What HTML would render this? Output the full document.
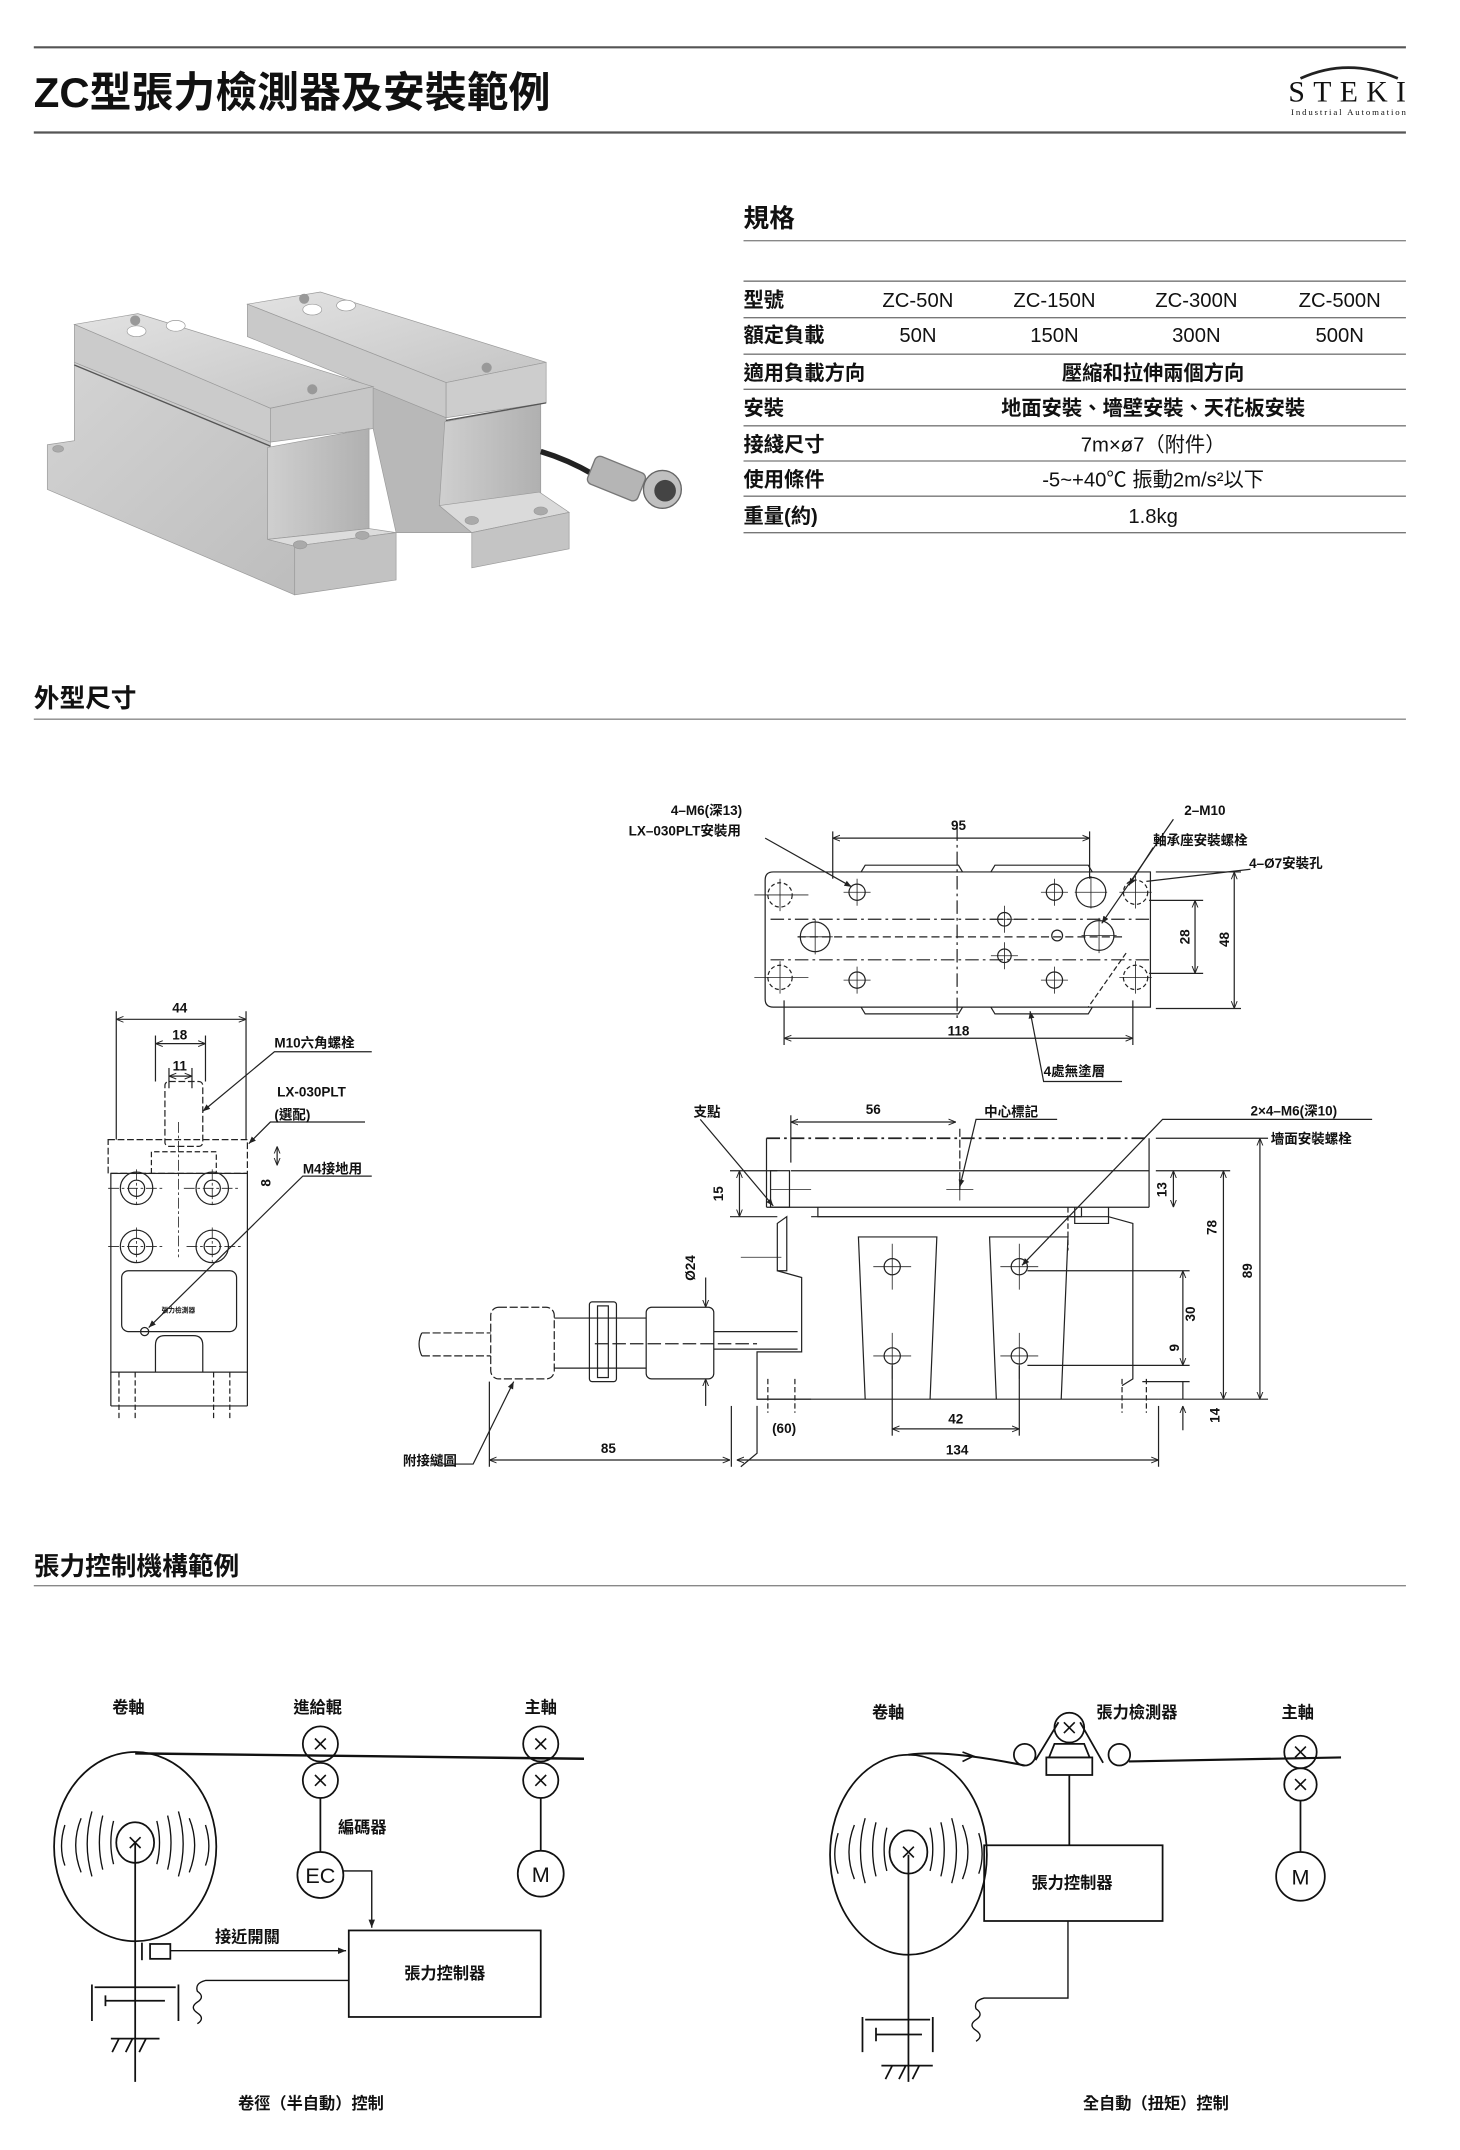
<!DOCTYPE html>
<html><head><meta charset="utf-8"><style>
html,body{margin:0;padding:0;background:#fff;}
svg{display:block;}
text{font-family:"Liberation Sans","Noto Sans CJK TC",sans-serif;fill:#111;}
.b{font-weight:bold;}
</style></head><body>
<svg width="1460" height="2150" viewBox="0 0 1080 1590.4" xmlns="http://www.w3.org/2000/svg">
<defs>
<marker id="ar" viewBox="0 0 10 10" refX="10" refY="5" markerWidth="6" markerHeight="6" orient="auto-start-reverse"><path d="M0,1 L10,5 L0,9" fill="none" stroke="#222" stroke-width="1.3"/></marker>
<marker id="af" viewBox="0 0 10 10" refX="10" refY="5" markerWidth="6" markerHeight="6" orient="auto"><path d="M0,1 L10,5 L0,9 z" fill="#222"/></marker>
<linearGradient id="g1" x1="0" y1="0" x2="1" y2="1"><stop offset="0" stop-color="#e2e2e2"/><stop offset="1" stop-color="#c4c4c4"/></linearGradient>
<linearGradient id="g2" x1="0" y1="0" x2="1" y2="0"><stop offset="0" stop-color="#cfcfcf"/><stop offset="1" stop-color="#b0b0b0"/></linearGradient>
<linearGradient id="g3" x1="0" y1="0" x2="1" y2="1"><stop offset="0" stop-color="#d4d4d4"/><stop offset="1" stop-color="#bdbdbd"/></linearGradient>
</defs>

<!-- header -->
<line x1="25" y1="35" x2="1040" y2="35" stroke="#555" stroke-width="1.6"/>
<text x="25" y="79" font-size="31" class="b">ZC型張力檢測器及安裝範例</text>
<line x1="25" y1="98" x2="1040" y2="98" stroke="#555" stroke-width="1.6"/>
<path d="M962,58 Q997,42 1034,58" fill="none" stroke="#222" stroke-width="2"/>
<text x="953" y="75" font-size="22" style="font-family:'Liberation Serif',serif" textLength="87">STEKI</text>
<text x="955" y="85" font-size="6.5" style="font-family:'Liberation Serif',serif" textLength="85">Industrial Automation</text>

<!-- spec -->
<text x="550" y="168" font-size="19" class="b">規格</text>
<line x1="550" y1="178" x2="1040" y2="178" stroke="#888" stroke-width="1"/>
<line x1="550" y1="208" x2="1040" y2="208" stroke="#888" stroke-width="1.2"/>
<g stroke="#777" stroke-width="1">
<line x1="550" y1="235" x2="1040" y2="235"/><line x1="550" y1="262" x2="1040" y2="262"/>
<line x1="550" y1="288" x2="1040" y2="288"/><line x1="550" y1="315" x2="1040" y2="315"/>
<line x1="550" y1="341" x2="1040" y2="341"/><line x1="550" y1="367" x2="1040" y2="367"/>
<line x1="550" y1="394" x2="1040" y2="394"/></g>
<g font-size="15">
<text x="550" y="227" class="b">型號</text>
<text x="679" y="227" text-anchor="middle">ZC-50N</text><text x="780" y="227" text-anchor="middle">ZC-150N</text>
<text x="885" y="227" text-anchor="middle">ZC-300N</text><text x="991" y="227" text-anchor="middle">ZC-500N</text>
<text x="550" y="253" class="b">額定負載</text>
<text x="679" y="253" text-anchor="middle">50N</text><text x="780" y="253" text-anchor="middle">150N</text>
<text x="885" y="253" text-anchor="middle">300N</text><text x="991" y="253" text-anchor="middle">500N</text>
<text x="550" y="281" class="b">適用負載方向</text><text x="853" y="281" text-anchor="middle" class="b">壓縮和拉伸兩個方向</text>
<text x="550" y="307" class="b">安裝</text><text x="853" y="307" text-anchor="middle" class="b">地面安裝、墻壁安裝、天花板安裝</text>
<text x="550" y="334" class="b">接綫尺寸</text><text x="853" y="334" text-anchor="middle">7m×ø7（附件）</text>
<text x="550" y="360" class="b">使用條件</text><text x="853" y="360" text-anchor="middle">-5~+40℃  振動2m/s²以下</text>
<text x="550" y="387" class="b">重量(約)</text><text x="853" y="387" text-anchor="middle">1.8kg</text>
</g>

<!-- photo -->
<g stroke="#9a9a9a" stroke-width="0.5">
<!-- right unit -->
<polygon points="276,286 330,283 330,312 325,374 349,394 293,394 276,317" fill="#b8b8b8"/>
<polygon points="183,225 237,216 404,268 330,283" fill="url(#g1)"/>
<polygon points="183,225 330,283 330,309 183,249" fill="#c9c9c9"/>
<polygon points="330,283 404,268 404,298 330,309" fill="#cdcdcd"/>
<polygon points="329,312 400,299 400,371 325,374" fill="url(#g2)"/>
<polygon points="325,374 399,364 421,379 349,394" fill="#dadada"/>
<polygon points="349,394 421,379 421,406 349,420" fill="#c4c4c4"/>
<circle cx="225" cy="221" r="3.5" fill="#999"/><circle cx="360" cy="272" r="3.5" fill="#999"/>
<ellipse cx="231" cy="229" rx="7" ry="4" fill="#fff"/><ellipse cx="256" cy="226" rx="7" ry="4" fill="#fff"/>
<ellipse cx="349" cy="385" rx="5" ry="3" fill="#aaa"/><ellipse cx="400" cy="378" rx="5" ry="3" fill="#aaa"/>
<!-- left unit -->
<polygon points="35,329 55,326 55,268 200,327 200,331 198,399 218,404 218,440 35,362" fill="url(#g3)"/>
<polygon points="55,240 102,232 276,286 200,302" fill="url(#g1)"/>
<polygon points="55,240 200,302 200,327 55,268" fill="#cbcbcb"/>
<polygon points="200,302 276,286 276,317 200,327" fill="#c6c6c6"/>
<polygon points="198,331 273,317 273,391 198,399" fill="url(#g2)"/>
<polygon points="198,399 273,391 293,394 218,404" fill="#dcdcdc"/>
<polygon points="218,404 293,394 293,429 218,440" fill="#c2c2c2"/>
<line x1="55" y1="270" x2="200" y2="330" stroke="#555" stroke-width="1"/>
<circle cx="100" cy="237" r="3.5" fill="#999"/><circle cx="231" cy="288" r="3.5" fill="#999"/>
<ellipse cx="101" cy="245" rx="7" ry="4" fill="#fff"/><ellipse cx="130" cy="241" rx="7" ry="4" fill="#fff"/>
<ellipse cx="222" cy="403" rx="5" ry="3" fill="#aaa"/><ellipse cx="268" cy="396" rx="5" ry="3" fill="#aaa"/>
<ellipse cx="43" cy="332" rx="4" ry="2.5" fill="#aaa"/>
</g>
<line x1="330" y1="311" x2="404" y2="298" stroke="#555" stroke-width="1"/>
<path d="M400,334 Q420,340 439,351" fill="none" stroke="#222" stroke-width="4"/>
<rect x="436" y="343" width="40" height="22" rx="4" fill="#b5b5b5" stroke="#777" transform="rotate(22 456 354)"/>
<circle cx="490" cy="362" r="14" fill="#c0c0c0" stroke="#666"/>
<circle cx="492" cy="363" r="8" fill="#444"/>

<!-- 外型尺寸 -->
<text x="25" y="523" font-size="19" class="b">外型尺寸</text>
<line x1="25" y1="532" x2="1040" y2="532" stroke="#888" stroke-width="1"/>

<g fill="none" stroke="#222" stroke-width="0.9" font-size="10">
<!-- top view -->
<path d="M572,645 L851,645 L851,745 L572,745 Q566,745 566,739 L566,651 Q566,645 572,645 Z"/>
<path d="M637,645 L640,640 L709,640 L712,645 M733,645 L736,640 L805,640 L808,645"/>
<path d="M637,745 L640,750 L709,750 L712,745 M733,745 L736,750 L805,750 L808,745"/>
<line x1="570" y1="680" x2="851" y2="680" stroke-dasharray="10,3,2,3"/>
<line x1="570" y1="710" x2="851" y2="710" stroke-dasharray="10,3,2,3"/>
<line x1="590" y1="693" x2="830" y2="693" stroke-dasharray="6,3"/>
<line x1="708" y1="612" x2="708" y2="755" stroke-dasharray="10,3,2,3"/>
<g stroke-dasharray="3,2"><circle cx="577" cy="662" r="9"/><circle cx="577" cy="723" r="9"/><circle cx="840" cy="660" r="9"/><circle cx="840" cy="723" r="9"/></g>
<circle cx="634" cy="660" r="6"/><circle cx="634" cy="725" r="6"/><circle cx="780" cy="660" r="6"/><circle cx="780" cy="725" r="6"/>
<circle cx="743" cy="680" r="5"/><circle cx="743" cy="707" r="5"/><circle cx="782" cy="692" r="4"/>
<circle cx="603" cy="693" r="11"/><circle cx="813" cy="692" r="11"/><circle cx="807" cy="660" r="11"/>
<g stroke-width="0.6"><path d="M558,662h40M577,650v24M558,723h40M577,711v24M624,660h20M634,650v20M624,725h20M634,715v20M770,660h20M780,650v20M770,725h20M780,715v20M733,680h20M743,670v20M733,707h20M743,697v20M590,693h26M603,680v26M800,692h26M813,679v26M795,660h24M807,648v24M828,660h24M840,648v24M828,723h24M840,711v24"/></g>
<path d="M833,705 L805,745" stroke-dasharray="4,2"/>
<line x1="616" y1="620" x2="806" y2="620" marker-start="url(#ar)" marker-end="url(#ar)"/>
<line x1="616" y1="615" x2="616" y2="650"/><line x1="806" y1="615" x2="806" y2="650"/>
<line x1="580" y1="768" x2="838" y2="768" marker-start="url(#ar)" marker-end="url(#ar)"/>
<line x1="580" y1="740" x2="580" y2="773"/><line x1="838" y1="740" x2="838" y2="773"/>
<line x1="884" y1="666" x2="884" y2="720" marker-start="url(#ar)" marker-end="url(#ar)"/>
<line x1="850" y1="666" x2="890" y2="666"/><line x1="850" y1="720" x2="890" y2="720"/>
<line x1="913" y1="645" x2="913" y2="746" marker-start="url(#ar)" marker-end="url(#ar)"/>
<line x1="855" y1="645" x2="918" y2="645"/><line x1="855" y1="746" x2="918" y2="746"/>
<path d="M566,620 L630,656" marker-end="url(#af)"/>
<path d="M868,606 L815,683" marker-end="url(#af)"/>
<path d="M853,627 L835,655" marker-end="url(#af)"/>
<path d="M925,643 L848,652"/>
<path d="M830,800 L772,800 L762,748" marker-end="url(#af)"/>
</g>
<g font-size="10" class="b">
<text x="549" y="603" text-anchor="end">4–M6(深13)</text>
<text x="465" y="618">LX–030PLT安裝用</text>
<text x="709" y="614" text-anchor="middle">95</text>
<text x="709" y="766" text-anchor="middle">118</text>
<text x="876" y="603">2–M10</text>
<text x="853" y="625">軸承座安裝螺栓</text>
<text x="924" y="642">4–Ø7安裝孔</text>
<text x="772" y="796">4處無塗層</text>
<text transform="translate(880,693) rotate(-90)" text-anchor="middle">28</text>
<text transform="translate(909,695) rotate(-90)" text-anchor="middle">48</text>
</g>

<!-- front view left -->
<g fill="none" stroke="#222" stroke-width="0.9">
<rect x="80" y="843" width="103" height="25" stroke-dasharray="5,2"/>
<rect x="122" y="800" width="28" height="48" rx="3" stroke-dasharray="5,2"/>
<path d="M112,868 L112,852 L160,852 L160,868" stroke-dasharray="4,2"/>
<rect x="82" y="868" width="101" height="147"/>
<line x1="82" y1="1015" x2="82" y2="1040"/><line x1="183" y1="1015" x2="183" y2="1040"/>
<line x1="82" y1="1040" x2="183" y2="1040"/>
<rect x="90" y="940" width="85" height="45" rx="5"/>
<path d="M115,1015 L115,995 Q115,988 122,988 L143,988 Q150,988 150,995 L150,1015"/>
<g stroke-dasharray="4,2"><line x1="88" y1="1015" x2="88" y2="1050"/><line x1="100" y1="1015" x2="100" y2="1050"/><line x1="158" y1="1015" x2="158" y2="1050"/><line x1="170" y1="1015" x2="170" y2="1050"/></g>
<circle cx="101" cy="879" r="12"/><circle cx="101" cy="879" r="6"/>
<circle cx="157" cy="879" r="12"/><circle cx="157" cy="879" r="6"/>
<circle cx="101" cy="922" r="12"/><circle cx="101" cy="922" r="6"/>
<circle cx="157" cy="922" r="12"/><circle cx="157" cy="922" r="6"/>
<circle cx="107" cy="985" r="3"/>
<path d="M80,879h42M136,879h42M80,922h40M138,922h40M101,865v28M157,865v28M101,908v28M157,908v28M96,985h22M132,830v100" stroke-width="0.6" stroke-dasharray="8,2,2,2"/>
<line x1="86" y1="754" x2="182" y2="754" marker-start="url(#ar)" marker-end="url(#ar)"/>
<line x1="86" y1="748" x2="86" y2="843"/><line x1="182" y1="748" x2="182" y2="843"/>
<line x1="115" y1="772" x2="152" y2="772" marker-start="url(#ar)" marker-end="url(#ar)"/>
<line x1="115" y1="766" x2="115" y2="800"/><line x1="152" y1="766" x2="152" y2="800"/>
<line x1="125" y1="796" x2="142" y2="796" marker-start="url(#ar)" marker-end="url(#ar)"/>
<line x1="125" y1="790" x2="125" y2="805"/><line x1="142" y1="790" x2="142" y2="805"/>
<line x1="205" y1="848" x2="205" y2="862" marker-start="url(#ar)" marker-end="url(#ar)"/>
<path d="M275,778 L203,778 L150,822" marker-end="url(#af)"/>
<path d="M270,830 L200,830 L184,846" marker-end="url(#af)"/>
<path d="M275,870 L224,870 L110,982" marker-end="url(#af)"/>
</g>
<g font-size="10" class="b">
<text x="133" y="749" text-anchor="middle">44</text>
<text x="133" y="769" text-anchor="middle">18</text>
<text x="133" y="792" text-anchor="middle">11</text>
<text x="203" y="775">M10六角螺栓</text>
<text x="205" y="811">LX-030PLT</text>
<text x="203" y="828">(選配)</text>
<text x="224" y="868">M4接地用</text>
<text transform="translate(200,875) rotate(-90)" text-anchor="middle">8</text>
<text x="132" y="971" font-size="5" text-anchor="middle">張力檢測器</text>
</g>

<!-- side view -->
<g fill="none" stroke="#222" stroke-width="0.9">
<line x1="567" y1="842" x2="850" y2="842" stroke-dasharray="10,3,2,3" stroke-width="1.3"/>
<line x1="567" y1="842" x2="567" y2="893"/><line x1="850" y1="842" x2="850" y2="893"/>
<line x1="585" y1="866" x2="850" y2="866"/>
<line x1="567" y1="893" x2="850" y2="893"/>
<rect x="570" y="866" width="14" height="27"/>
<path d="M605,893 L605,900 L800,900 L800,893 M795,893 L795,905 L820,905 L820,893"/>
<path d="M582,900 L582,940 L575,940 L575,905 Z"/>
<path d="M575,940 L593,945 L593,1000 L560,1000 L560,1035 L600,1035"/>
<path d="M600,900 L820,900 L838,905 L838,1020 L830,1025"/>
<line x1="560" y1="1035" x2="857" y2="1035"/>
<path d="M640,1035 L635,915 L693,915 L688,1035"/>
<path d="M737,1035 L732,915 L790,915 L785,1035"/>
<g stroke-dasharray="4,2"><line x1="568" y1="1020" x2="568" y2="1045"/><line x1="588" y1="1020" x2="588" y2="1045"/><line x1="830" y1="1020" x2="830" y2="1045"/><line x1="848" y1="1020" x2="848" y2="1045"/><line x1="790" y1="893" x2="790" y2="925"/></g>
<circle cx="660" cy="937" r="6"/><circle cx="754" cy="937" r="6"/><circle cx="660" cy="1003" r="6"/><circle cx="754" cy="1003" r="6"/>
<path d="M646,937h28M660,920v34M740,937h28M754,920v34M646,1003h28M660,986v34M740,1003h28M754,986v34M570,880h30M700,880h20M710,868v20M548,930h30" stroke-width="0.6"/>
<line x1="710" y1="835" x2="710" y2="880" stroke-dasharray="6,2"/>
<rect x="363" y="967" width="47" height="53" rx="6" stroke-dasharray="6,2"/>
<rect x="436" y="963" width="20" height="59" rx="2"/>
<rect x="442" y="966" width="8" height="53"/>
<rect x="478" y="967" width="50" height="53" rx="4"/>
<line x1="410" y1="975" x2="478" y2="975"/><line x1="410" y1="1012" x2="478" y2="1012"/>
<line x1="528" y1="985" x2="590" y2="985"/><line x1="528" y1="998" x2="590" y2="998"/>
<path d="M312,986 L363,986 M312,1003 L363,1003" stroke-dasharray="6,2"/>
<path d="M312,986 q-4,8 0,17" />
<line x1="440" y1="994" x2="560" y2="994" stroke-dasharray="10,3"/>
<line x1="585" y1="830" x2="707" y2="830" marker-start="url(#ar)" marker-end="url(#ar)"/>
<line x1="585" y1="825" x2="585" y2="860"/>
<line x1="547" y1="866" x2="547" y2="900" marker-start="url(#ar)" marker-end="url(#ar)"/>
<line x1="540" y1="866" x2="575" y2="866"/><line x1="540" y1="900" x2="575" y2="900"/>
<line x1="868" y1="866" x2="868" y2="893" marker-start="url(#ar)" marker-end="url(#ar)"/>
<line x1="855" y1="866" x2="910" y2="866"/>
<line x1="905" y1="866" x2="905" y2="1035" marker-start="url(#ar)" marker-end="url(#ar)"/>
<line x1="932" y1="842" x2="932" y2="1035" marker-start="url(#ar)" marker-end="url(#ar)"/>
<line x1="855" y1="842" x2="938" y2="842"/><line x1="857" y1="1035" x2="938" y2="1035"/>
<line x1="875" y1="940" x2="875" y2="1010" marker-start="url(#ar)" marker-end="url(#ar)"/>
<line x1="760" y1="940" x2="880" y2="940"/><line x1="760" y1="1010" x2="880" y2="1010"/>
<line x1="875" y1="1022" x2="875" y2="1035"/><line x1="845" y1="1022" x2="880" y2="1022"/>
<line x1="875" y1="1040" x2="875" y2="1058" marker-start="url(#ar)"/>
<line x1="522" y1="945" x2="522" y2="967" marker-end="url(#ar)"/><line x1="522" y1="1040" x2="522" y2="1020" marker-end="url(#ar)"/>
<line x1="660" y1="1057" x2="754" y2="1057" marker-start="url(#ar)" marker-end="url(#ar)"/>
<line x1="660" y1="1010" x2="660" y2="1062"/><line x1="754" y1="1010" x2="754" y2="1062"/>
<line x1="362" y1="1080" x2="540" y2="1080" marker-start="url(#ar)" marker-end="url(#ar)"/>
<line x1="545" y1="1080" x2="857" y2="1080" marker-start="url(#ar)" marker-end="url(#ar)"/>
<line x1="362" y1="1022" x2="362" y2="1085"/><line x1="541" y1="1040" x2="541" y2="1085"/><line x1="857" y1="1040" x2="857" y2="1085"/>
<path d="M560,1040 L560,1075 L548,1085"/>
<path d="M518,828 L572,892" marker-end="url(#af)"/>
<path d="M782,828 L722,828 L710,878" marker-end="url(#af)"/>
<path d="M1015,828 L860,828 L756,936" marker-end="url(#af)"/>
<path d="M320,1083 L350,1083 L380,1022" marker-end="url(#af)"/>
</g>
<g font-size="10" class="b">
<text x="513" y="826">支點</text>
<text x="646" y="824" text-anchor="middle">56</text>
<text x="728" y="826">中心標記</text>
<text x="925" y="825">2×4–M6(深10)</text>
<text x="940" y="846">墻面安裝螺栓</text>
<text transform="translate(535,883) rotate(-90)" text-anchor="middle">15</text>
<text transform="translate(863,880) rotate(-90)" text-anchor="middle">13</text>
<text transform="translate(900,908) rotate(-90)" text-anchor="middle">78</text>
<text transform="translate(926,940) rotate(-90)" text-anchor="middle">89</text>
<text transform="translate(884,972) rotate(-90)" text-anchor="middle">30</text>
<text transform="translate(872,997) rotate(-90)" text-anchor="middle">9</text>
<text transform="translate(902,1047) rotate(-90)" text-anchor="middle">14</text>
<text transform="translate(514,938) rotate(-90)" text-anchor="middle">Ø24</text>
<text x="707" y="1053" text-anchor="middle">42</text>
<text x="580" y="1060" text-anchor="middle">(60)</text>
<text x="450" y="1075" text-anchor="middle">85</text>
<text x="708" y="1076" text-anchor="middle">134</text>
<text x="298" y="1084">附接繾圖</text>
</g>

<!-- 張力控制機構範例 -->
<text x="25" y="1165" font-size="19" class="b">張力控制機構範例</text>
<line x1="25" y1="1173" x2="1040" y2="1173" stroke="#888" stroke-width="1"/>

<g fill="none" stroke="#111" stroke-width="1.3">
<!-- left diagram -->
<ellipse cx="100" cy="1366" rx="60" ry="70"/>
<ellipse cx="100" cy="1363" rx="14" ry="15"/>
<path d="M60,1345 q-8,20 0,40 M68,1340 q-7,24 0,48 M76,1343 q-5,20 0,40 M84,1347 q-4,16 0,32 M116,1347 q4,16 0,32 M124,1343 q5,20 0,40 M132,1340 q7,24 0,48 M140,1345 q8,20 0,40 M48,1350 q-5,16 0,30 M152,1350 q5,16 0,30" stroke-width="1"/>
<line x1="100" y1="1297" x2="432" y2="1301" stroke-width="1.8"/>
<circle cx="237" cy="1290" r="13"/><circle cx="237" cy="1317" r="13"/>
<circle cx="400" cy="1290" r="13"/><circle cx="400" cy="1317" r="13"/>
<line x1="237" y1="1330" x2="237" y2="1370"/><line x1="400" y1="1330" x2="400" y2="1369"/>
<circle cx="237" cy="1387" r="17"/><circle cx="400" cy="1386" r="17"/>
<path d="M254,1384 L275,1384 L275,1426" marker-end="url(#af)" stroke-width="1"/>
<rect x="258" y="1428" width="142" height="64"/>
<line x1="100" y1="1363" x2="100" y2="1540"/>
<rect x="111" y="1438" width="15" height="11"/>
<line x1="105" y1="1437" x2="105" y2="1450"/>
<line x1="126" y1="1443" x2="256" y2="1443" marker-end="url(#af)" stroke-width="1"/>
<path d="M258,1465 L152,1465 q-8,2 -6,8 q6,4 0,8 q-6,4 0,8 q6,4 0,8" stroke-width="1"/>
<path d="M68,1468 L68,1495 M132,1468 L132,1495 M70,1470 L130,1470 M78,1480 L122,1480 M78,1476 L78,1484" />
<path d="M82,1508 L118,1508 M88,1508 l-5,10 M98,1508 l-5,10 M108,1508 l-5,10" />
<!-- right diagram -->
<ellipse cx="672" cy="1372" rx="58" ry="74"/>
<ellipse cx="672" cy="1370" rx="14" ry="16"/>
<path d="M632,1350 q-8,20 0,40 M640,1345 q-7,24 0,48 M648,1348 q-5,20 0,40 M656,1352 q-4,16 0,32 M688,1352 q4,16 0,32 M696,1348 q5,20 0,40 M704,1345 q7,24 0,48 M712,1350 q8,20 0,40 M620,1356 q-5,16 0,30 M724,1356 q5,16 0,30" stroke-width="1"/>
<path d="M672,1298 Q700,1294 758,1306" stroke-width="1.5"/>
<path d="M712,1296 l8,3 l-8,4" stroke-width="1.2"/>
<circle cx="758" cy="1298" r="8"/><circle cx="791" cy="1278" r="11"/><circle cx="828" cy="1298" r="8"/>
<path d="M766,1302 L783,1274 M816,1304 L799,1274"/>
<polygon points="780,1290 802,1290 806,1300 776,1300"/>
<rect x="774" y="1300" width="34" height="13"/>
<line x1="835" y1="1303" x2="992" y2="1300" stroke-width="1.6"/>
<line x1="791" y1="1313" x2="791" y2="1365"/>
<rect x="728" y="1365" width="132" height="56"/>
<path d="M790,1421 L790,1478 L728,1478 q-8,2 -6,8 q6,4 0,8 q-6,4 0,8 q6,4 0,8" stroke-width="1"/>
<circle cx="962" cy="1296" r="12"/><circle cx="962" cy="1320" r="12"/>
<line x1="962" y1="1332" x2="962" y2="1370"/>
<circle cx="962" cy="1388" r="18"/>
<line x1="672" y1="1372" x2="672" y2="1540"/>
<path d="M638,1492 L638,1518 M690,1492 L690,1518 M640,1494 L688,1494 M648,1505 L682,1505 M648,1500 L648,1510"/>
<path d="M652,1528 L690,1528 M660,1528 l-5,10 M670,1528 l-5,10 M680,1528 l-5,10"/>
</g>
<g font-size="12" class="b">
<text x="95" y="1267" text-anchor="middle">卷軸</text>
<text x="235" y="1267" text-anchor="middle">進給輥</text>
<text x="400" y="1267" text-anchor="middle">主軸</text>
<text x="250" y="1356">編碼器</text>
<text x="183" y="1437" text-anchor="middle">接近開關</text>
<text x="329" y="1464" text-anchor="middle">張力控制器</text>
<text x="230" y="1560" text-anchor="middle">卷徑（半自動）控制</text>
<text x="657" y="1271" text-anchor="middle">卷軸</text>
<text x="841" y="1271" text-anchor="middle">張力檢測器</text>
<text x="960" y="1271" text-anchor="middle">主軸</text>
<text x="793" y="1397" text-anchor="middle">張力控制器</text>
<text x="855" y="1560" text-anchor="middle">全自動（扭矩）控制</text>
</g>
<text x="237" y="1393" font-size="16" text-anchor="middle">EC</text>
<text x="400" y="1392" font-size="16" text-anchor="middle">M</text>
<text x="962" y="1394" font-size="16" text-anchor="middle">M</text>
<g stroke="#111" stroke-width="1.2"><path d="M233,1286l8,8M241,1286l-8,8M233,1313l8,8M241,1313l-8,8M396,1286l8,8M404,1286l-8,8M396,1313l8,8M404,1313l-8,8M96,1359l8,8M104,1359l-8,8M787,1274l8,8M795,1274l-8,8M958,1292l8,8M966,1292l-8,8M958,1316l8,8M966,1316l-8,8M668,1366l8,8M676,1366l-8,8"/></g>
</svg>
</body></html>
